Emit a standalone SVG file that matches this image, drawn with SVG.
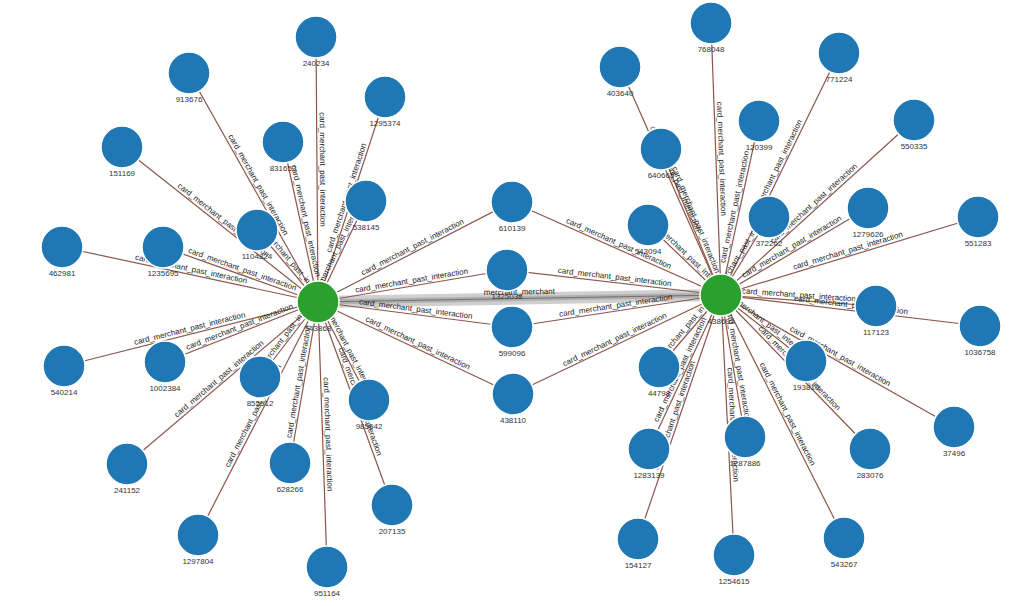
<svg xmlns="http://www.w3.org/2000/svg" width="1024" height="606" viewBox="0 0 1024 606">
<style>
.e{stroke:#8c564b;stroke-width:1.2;fill:none}
.el{font-family:"Liberation Sans",Arial,sans-serif;font-size:8px;fill:#222;text-anchor:middle}
.n{fill:#1f77b4;stroke:#fff;stroke-width:1.5}
.h{fill:#2ca02c;stroke:#fff;stroke-width:1.5}
.nl{font-family:"Liberation Sans",Arial,sans-serif;font-size:8px;fill:#333;text-anchor:middle}
</style>
<rect width="1024" height="606" fill="#fff"/>
<g id="edges">
<line x1="318" y1="302" x2="721" y2="295" stroke="#cfcfcf" stroke-width="12"/>
<line x1="318" y1="302" x2="721" y2="295" stroke="#b0b0b0" stroke-width="5"/>
<line x1="318" y1="302" x2="721" y2="295" stroke="#707070" stroke-width="1"/>
<line class="e" x1="316" y1="37" x2="318" y2="302"/>
<line class="e" x1="189" y1="73" x2="318" y2="302"/>
<line class="e" x1="385" y1="97" x2="318" y2="302"/>
<line class="e" x1="122" y1="147" x2="318" y2="302"/>
<line class="e" x1="283" y1="142" x2="318" y2="302"/>
<line class="e" x1="366" y1="201" x2="318" y2="302"/>
<line class="e" x1="257" y1="230" x2="318" y2="302"/>
<line class="e" x1="62" y1="247" x2="318" y2="302"/>
<line class="e" x1="163" y1="247" x2="318" y2="302"/>
<line class="e" x1="512" y1="202" x2="318" y2="302"/>
<line class="e" x1="507" y1="270" x2="318" y2="302"/>
<line class="e" x1="512" y1="327" x2="318" y2="302"/>
<line class="e" x1="513" y1="394" x2="318" y2="302"/>
<line class="e" x1="64" y1="366" x2="318" y2="302"/>
<line class="e" x1="165" y1="362" x2="318" y2="302"/>
<line class="e" x1="260" y1="377" x2="318" y2="302"/>
<line class="e" x1="127" y1="464" x2="318" y2="302"/>
<line class="e" x1="290" y1="463" x2="318" y2="302"/>
<line class="e" x1="369" y1="400" x2="318" y2="302"/>
<line class="e" x1="392" y1="505" x2="318" y2="302"/>
<line class="e" x1="198" y1="535" x2="318" y2="302"/>
<line class="e" x1="327" y1="567" x2="318" y2="302"/>
<line class="e" x1="711" y1="23" x2="721" y2="295"/>
<line class="e" x1="620" y1="67" x2="721" y2="295"/>
<line class="e" x1="839" y1="53" x2="721" y2="295"/>
<line class="e" x1="759" y1="121" x2="721" y2="295"/>
<line class="e" x1="914" y1="120" x2="721" y2="295"/>
<line class="e" x1="661" y1="149" x2="721" y2="295"/>
<line class="e" x1="769" y1="217" x2="721" y2="295"/>
<line class="e" x1="868" y1="208" x2="721" y2="295"/>
<line class="e" x1="978" y1="217" x2="721" y2="295"/>
<line class="e" x1="648" y1="225" x2="721" y2="295"/>
<line class="e" x1="512" y1="202" x2="721" y2="295"/>
<line class="e" x1="507" y1="270" x2="721" y2="295"/>
<line class="e" x1="512" y1="327" x2="721" y2="295"/>
<line class="e" x1="513" y1="394" x2="721" y2="295"/>
<line class="e" x1="876" y1="306" x2="721" y2="295"/>
<line class="e" x1="980" y1="326" x2="721" y2="295"/>
<line class="e" x1="659" y1="367" x2="721" y2="295"/>
<line class="e" x1="806" y1="361" x2="721" y2="295"/>
<line class="e" x1="649" y1="449" x2="721" y2="295"/>
<line class="e" x1="745" y1="437" x2="721" y2="295"/>
<line class="e" x1="870" y1="449" x2="721" y2="295"/>
<line class="e" x1="954" y1="427" x2="721" y2="295"/>
<line class="e" x1="638" y1="539" x2="721" y2="295"/>
<line class="e" x1="734" y1="555" x2="721" y2="295"/>
<line class="e" x1="844" y1="538" x2="721" y2="295"/>
</g>
<g id="edge-labels">
<text class="el" transform="translate(519.5,298.5) rotate(-1)" dy="-4">merchant_merchant</text>
<text class="el" transform="translate(317,169.5) rotate(89.6)" dy="-3">card_merchant_past_interaction</text>
<text class="el" transform="translate(253.5,187.5) rotate(60.6)" dy="-3">card_merchant_past_interaction</text>
<text class="el" transform="translate(351.5,199.5) rotate(-71.9)" dy="-3">card_merchant_past_interaction</text>
<text class="el" transform="translate(220,224.5) rotate(38.3)" dy="-3">card_merchant_past_interaction</text>
<text class="el" transform="translate(300.5,222) rotate(77.7)" dy="-3">card_merchant_past_interaction</text>
<text class="el" transform="translate(342,251.5) rotate(-64.6)" dy="-3">card_merchant_past_interaction</text>
<text class="el" transform="translate(287.5,266) rotate(49.7)" dy="-3">card_merchant_past_interaction</text>
<text class="el" transform="translate(190,274.5) rotate(12.1)" dy="-3">card_merchant_past_interaction</text>
<text class="el" transform="translate(240.5,274.5) rotate(19.5)" dy="-3">card_merchant_past_interaction</text>
<text class="el" transform="translate(415,252) rotate(-27.3)" dy="-3">card_merchant_past_interaction</text>
<text class="el" transform="translate(412.5,286) rotate(-9.6)" dy="-3">card_merchant_past_interaction</text>
<text class="el" transform="translate(415,314.5) rotate(7.3)" dy="-3">card_merchant_past_interaction</text>
<text class="el" transform="translate(415.5,348) rotate(25.3)" dy="-3">card_merchant_past_interaction</text>
<text class="el" transform="translate(191,334) rotate(-14.1)" dy="-3">card_merchant_past_interaction</text>
<text class="el" transform="translate(241.5,332) rotate(-21.4)" dy="-3">card_merchant_past_interaction</text>
<text class="el" transform="translate(289,339.5) rotate(-52.3)" dy="-3">card_merchant_past_interaction</text>
<text class="el" transform="translate(222.5,383) rotate(-40.3)" dy="-3">card_merchant_past_interaction</text>
<text class="el" transform="translate(304,382.5) rotate(-80.1)" dy="-3">card_merchant_past_interaction</text>
<text class="el" transform="translate(343.5,351) rotate(62.5)" dy="-3">card_merchant_past_interaction</text>
<text class="el" transform="translate(355,403.5) rotate(70)" dy="-3">card_merchant_past_interaction</text>
<text class="el" transform="translate(258,418.5) rotate(-62.7)" dy="-3">card_merchant_past_interaction</text>
<text class="el" transform="translate(322.5,434.5) rotate(88)" dy="-3">card_merchant_past_interaction</text>
<text class="el" transform="translate(716,159) rotate(87.9)" dy="-3">card_merchant_past_interaction</text>
<text class="el" transform="translate(670.5,181) rotate(66.1)" dy="-3">card_merchant_past_interaction</text>
<text class="el" transform="translate(780,174) rotate(-64)" dy="-3">card_merchant_past_interaction</text>
<text class="el" transform="translate(740,208) rotate(-77.7)" dy="-3">card_merchant_past_interaction</text>
<text class="el" transform="translate(817.5,207.5) rotate(-42.2)" dy="-3">card_merchant_past_interaction</text>
<text class="el" transform="translate(691,222) rotate(67.7)" dy="-3">card_merchant_past_interaction</text>
<text class="el" transform="translate(745,256) rotate(-58.4)" dy="-3">card_merchant_past_interaction</text>
<text class="el" transform="translate(794.5,251.5) rotate(-30.6)" dy="-3">card_merchant_past_interaction</text>
<text class="el" transform="translate(849.5,256) rotate(-16.9)" dy="-3">card_merchant_past_interaction</text>
<text class="el" transform="translate(684.5,260) rotate(43.8)" dy="-3">card_merchant_past_interaction</text>
<text class="el" transform="translate(616.5,248.5) rotate(24)" dy="-3">card_merchant_past_interaction</text>
<text class="el" transform="translate(614,282.5) rotate(6.7)" dy="-3">card_merchant_past_interaction</text>
<text class="el" transform="translate(616.5,311) rotate(-8.7)" dy="-3">card_merchant_past_interaction</text>
<text class="el" transform="translate(617,344.5) rotate(-25.5)" dy="-3">card_merchant_past_interaction</text>
<text class="el" transform="translate(798.5,300.5) rotate(4.1)" dy="-3">card_merchant_past_interaction</text>
<text class="el" transform="translate(850.5,310.5) rotate(6.8)" dy="-3">card_merchant_past_interaction</text>
<text class="el" transform="translate(690,331) rotate(-49.3)" dy="-3">card_merchant_past_interaction</text>
<text class="el" transform="translate(763.5,328) rotate(37.8)" dy="-3">card_merchant_past_interaction</text>
<text class="el" transform="translate(685,372) rotate(-64.9)" dy="-3">card_merchant_past_interaction</text>
<text class="el" transform="translate(733,366) rotate(80.4)" dy="-3">card_merchant_past_interaction</text>
<text class="el" transform="translate(795.5,372) rotate(45.9)" dy="-3">card_merchant_past_interaction</text>
<text class="el" transform="translate(837.5,361) rotate(29.5)" dy="-3">card_merchant_past_interaction</text>
<text class="el" transform="translate(679.5,417) rotate(-71.2)" dy="-3">card_merchant_past_interaction</text>
<text class="el" transform="translate(727.5,425) rotate(87.1)" dy="-3">card_merchant_past_interaction</text>
<text class="el" transform="translate(782.5,416.5) rotate(63.2)" dy="-3">card_merchant_past_interaction</text>
</g>
<g id="n-543868"><circle class="h" cx="318" cy="302" r="21"/><text class="nl" x="318" y="331">543868</text></g>
<g id="n-438692"><circle class="h" cx="721" cy="295" r="21"/><text class="nl" x="721" y="324">438692</text></g>
<g id="n-240234"><circle class="n" cx="316" cy="37" r="21"/><text class="nl" x="316" y="66">240234</text></g>
<g id="n-913676"><circle class="n" cx="189" cy="73" r="21"/><text class="nl" x="189" y="102">913676</text></g>
<g id="n-1295374"><circle class="n" cx="385" cy="97" r="21"/><text class="nl" x="385" y="126">1295374</text></g>
<g id="n-151169"><circle class="n" cx="122" cy="147" r="21"/><text class="nl" x="122" y="176">151169</text></g>
<g id="n-831653"><circle class="n" cx="283" cy="142" r="21"/><text class="nl" x="283" y="171">831653</text></g>
<g id="n-538145"><circle class="n" cx="366" cy="201" r="21"/><text class="nl" x="366" y="230">538145</text></g>
<g id="n-1104824"><circle class="n" cx="257" cy="230" r="21"/><text class="nl" x="257" y="259">1104824</text></g>
<g id="n-462981"><circle class="n" cx="62" cy="247" r="21"/><text class="nl" x="62" y="276">462981</text></g>
<g id="n-1235695"><circle class="n" cx="163" cy="247" r="21"/><text class="nl" x="163" y="276">1235695</text></g>
<g id="n-610139"><circle class="n" cx="512" cy="202" r="21"/><text class="nl" x="512" y="231">610139</text></g>
<g id="n-1325038"><circle class="n" cx="507" cy="270" r="21"/><text class="nl" x="507" y="299">1325038</text></g>
<g id="n-599096"><circle class="n" cx="512" cy="327" r="21"/><text class="nl" x="512" y="356">599096</text></g>
<g id="n-438110"><circle class="n" cx="513" cy="394" r="21"/><text class="nl" x="513" y="423">438110</text></g>
<g id="n-540214"><circle class="n" cx="64" cy="366" r="21"/><text class="nl" x="64" y="395">540214</text></g>
<g id="n-1002384"><circle class="n" cx="165" cy="362" r="21"/><text class="nl" x="165" y="391">1002384</text></g>
<g id="n-855512"><circle class="n" cx="260" cy="377" r="21"/><text class="nl" x="260" y="406">855512</text></g>
<g id="n-241152"><circle class="n" cx="127" cy="464" r="21"/><text class="nl" x="127" y="493">241152</text></g>
<g id="n-628266"><circle class="n" cx="290" cy="463" r="21"/><text class="nl" x="290" y="492">628266</text></g>
<g id="n-985642"><circle class="n" cx="369" cy="400" r="21"/><text class="nl" x="369" y="429">985642</text></g>
<g id="n-207135"><circle class="n" cx="392" cy="505" r="21"/><text class="nl" x="392" y="534">207135</text></g>
<g id="n-1297804"><circle class="n" cx="198" cy="535" r="21"/><text class="nl" x="198" y="564">1297804</text></g>
<g id="n-951164"><circle class="n" cx="327" cy="567" r="21"/><text class="nl" x="327" y="596">951164</text></g>
<g id="n-768048"><circle class="n" cx="711" cy="23" r="21"/><text class="nl" x="711" y="52">768048</text></g>
<g id="n-403640"><circle class="n" cx="620" cy="67" r="21"/><text class="nl" x="620" y="96">403640</text></g>
<g id="n-771224"><circle class="n" cx="839" cy="53" r="21"/><text class="nl" x="839" y="82">771224</text></g>
<g id="n-120399"><circle class="n" cx="759" cy="121" r="21"/><text class="nl" x="759" y="150">120399</text></g>
<g id="n-550335"><circle class="n" cx="914" cy="120" r="21"/><text class="nl" x="914" y="149">550335</text></g>
<g id="n-640665"><circle class="n" cx="661" cy="149" r="21"/><text class="nl" x="661" y="178">640665</text></g>
<g id="n-372262"><circle class="n" cx="769" cy="217" r="21"/><text class="nl" x="769" y="246">372262</text></g>
<g id="n-1279626"><circle class="n" cx="868" cy="208" r="21"/><text class="nl" x="868" y="237">1279626</text></g>
<g id="n-551283"><circle class="n" cx="978" cy="217" r="21"/><text class="nl" x="978" y="246">551283</text></g>
<g id="n-543094"><circle class="n" cx="648" cy="225" r="21"/><text class="nl" x="648" y="254">543094</text></g>
<g id="n-117123"><circle class="n" cx="876" cy="306" r="21"/><text class="nl" x="876" y="335">117123</text></g>
<g id="n-1036758"><circle class="n" cx="980" cy="326" r="21"/><text class="nl" x="980" y="355">1036758</text></g>
<g id="n-44798"><circle class="n" cx="659" cy="367" r="21"/><text class="nl" x="659" y="396">44798</text></g>
<g id="n-193810"><circle class="n" cx="806" cy="361" r="21"/><text class="nl" x="806" y="390">193810</text></g>
<g id="n-1283139"><circle class="n" cx="649" cy="449" r="21"/><text class="nl" x="649" y="478">1283139</text></g>
<g id="n-1287886"><circle class="n" cx="745" cy="437" r="21"/><text class="nl" x="745" y="466">1287886</text></g>
<g id="n-283076"><circle class="n" cx="870" cy="449" r="21"/><text class="nl" x="870" y="478">283076</text></g>
<g id="n-37496"><circle class="n" cx="954" cy="427" r="21"/><text class="nl" x="954" y="456">37496</text></g>
<g id="n-154127"><circle class="n" cx="638" cy="539" r="21"/><text class="nl" x="638" y="568">154127</text></g>
<g id="n-1254615"><circle class="n" cx="734" cy="555" r="21"/><text class="nl" x="734" y="584">1254615</text></g>
<g id="n-543267"><circle class="n" cx="844" cy="538" r="21"/><text class="nl" x="844" y="567">543267</text></g>
</svg>
